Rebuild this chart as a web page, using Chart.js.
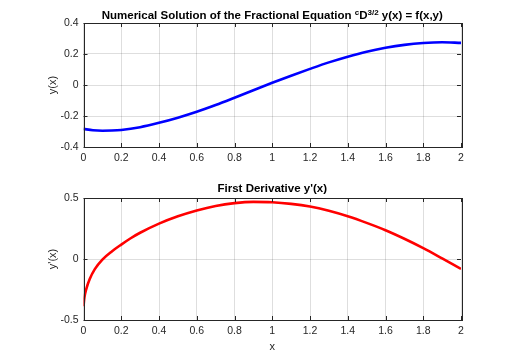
<!DOCTYPE html>
<html>
<head>
<meta charset="utf-8">
<script src="https://cdn.jsdelivr.net/npm/chart.js@4.4.1/dist/chart.umd.min.js"></script>
<style>
  html, body { margin: 0; padding: 0; background: #fff; }
  #wrap { position: relative; width: 527px; height: 359px; }
  canvas { position: absolute; left: 0; }
</style>
</head>
<body>
<div id="wrap">
  <canvas id="top" width="527" height="175" style="top:0"></canvas>
  <canvas id="bot" width="527" height="184" style="top:175px"></canvas>
</div>
<script>
// solution y(x)
const xSol = [0, 0.05, 0.1, 0.15, 0.2, 0.3, 0.4, 0.5, 0.6, 0.7, 0.8, 0.9, 1.0, 1.1, 1.2, 1.3, 1.4, 1.5, 1.6, 1.7, 1.8, 1.9, 2.0]
const ySol = [-0.283, -0.292, -0.295, -0.294, -0.290, -0.272, -0.244, -0.211, -0.173, -0.129, -0.082, -0.034, 0.014, 0.060, 0.104, 0.146, 0.183, 0.215, 0.240, 0.259, 0.271, 0.276, 0.272]

// first derivative y'(x)
const xDer = [0, 0.005, 0.015, 0.033, 0.06, 0.1, 0.15, 0.2, 0.25, 0.3, 0.4, 0.5, 0.6, 0.7, 0.8, 0.9, 1.0, 1.1, 1.2, 1.3, 1.4, 1.5, 1.6, 1.7, 1.8, 1.9, 2.0]
const yDer = [-0.387, -0.315, -0.245, -0.164, -0.083, -0.005, 0.062, 0.118, 0.17, 0.215, 0.29, 0.35, 0.398, 0.435, 0.458, 0.468, 0.465, 0.452, 0.43, 0.395, 0.35, 0.296, 0.236, 0.166, 0.089, 0.005, -0.081]

const topTicksY = [-0.4, -0.2, 0, 0.2, 0.4]
const botTicksY = [-0.5, 0, 0.5]

const FONT = '"Liberation Sans", Arial, Helvetica, sans-serif'
const INK = '#262626'

function toPoints(xs, ys) {
  const pts = []
  for (let i = 0; i < xs.length; i++) {
    pts.push({ x: xs[i], y: ys[i] })
  }
  return pts
}

// matlab-ish frame: box, inward ticks, title and axis labels
const matlabFrame = {
  id: 'matlabFrame',
  afterDraw(chart, args, opts) {
    const ctx = chart.ctx
    const a = chart.chartArea
    const xs = chart.scales.x
    const ys = chart.scales.y
    ctx.save()
    ctx.strokeStyle = INK
    ctx.lineWidth = 1
    ctx.beginPath()
    xs.ticks.forEach(t => {
      const px = Math.round(xs.getPixelForValue(t.value)) + 0.5
      ctx.moveTo(px, a.bottom); ctx.lineTo(px, a.bottom - 4)
      ctx.moveTo(px, a.top); ctx.lineTo(px, a.top + 4)
    })
    ys.ticks.forEach(t => {
      const py = Math.round(ys.getPixelForValue(t.value)) + 0.5
      ctx.moveTo(a.left, py); ctx.lineTo(a.left + 4, py)
      ctx.moveTo(a.right, py); ctx.lineTo(a.right - 4, py)
    })
    ctx.stroke()
    ctx.strokeRect(Math.round(a.left) + 0.5, Math.round(a.top) + 0.5, Math.round(a.right - a.left), Math.round(a.bottom - a.top))

    // title, pieces with superscripts
    const cx = (a.left + a.right) / 2
    let total = 0
    opts.title.forEach(p => {
      ctx.font = 'bold ' + (p.sup ? 8 : 11.5) + 'px ' + FONT
      total += ctx.measureText(p.t).width
    })
    let x = cx - total / 2
    ctx.fillStyle = '#000'
    ctx.textBaseline = 'alphabetic'
    ctx.textAlign = 'left'
    opts.title.forEach(p => {
      ctx.font = 'bold ' + (p.sup ? 8 : 11.5) + 'px ' + FONT
      ctx.fillText(p.t, x, opts.titleY - (p.sup ? 4.5 : 0))
      x += ctx.measureText(p.t).width
    })

    // y label
    ctx.fillStyle = INK
    ctx.font = '11px ' + FONT
    ctx.textAlign = 'center'
    ctx.textBaseline = 'middle'
    ctx.save()
    ctx.translate(53, (a.top + a.bottom) / 2)
    ctx.rotate(-Math.PI / 2)
    ctx.fillText(opts.ylabel, 0, 0)
    ctx.restore()

    if (opts.xlabel) {
      ctx.fillText(opts.xlabel, cx, opts.xlabelY)
    }
    ctx.restore()
  }
}

function makeChart(id, xs, ys, color, yTicks, frame, padBottom) {
  const ctx = document.getElementById(id).getContext('2d')
  const ymin = yTicks[0]
  const ymax = yTicks[yTicks.length - 1]
  return new Chart(ctx, {
    type: 'line',
    data: {
      datasets: [{
        data: toPoints(xs, ys),
        borderColor: color,
        borderWidth: 2.6,
        pointRadius: 0,
        fill: false,
        cubicInterpolationMode: 'monotone'
      }]
    },
    options: {
      responsive: false,
      animation: false,
      layout: { padding: { left: 0, right: 66, top: 23, bottom: padBottom } },
      plugins: {
        legend: { display: false },
        tooltip: { enabled: false },
        matlabFrame: frame
      },
      scales: {
        x: {
          type: 'linear',
          min: 0,
          max: 2,
          border: { display: false },
          grid: { color: 'rgba(0,0,0,0.13)', drawTicks: false },
          ticks: {
            stepSize: 0.2,
            padding: 5,
            color: INK,
            maxRotation: 0,
            autoSkip: false,
            font: { family: FONT, size: 10.5 },
            callback: v => String(Math.round(v * 10) / 10)
          },
          afterFit(scale) { scale.height = 20 }
        },
        y: {
          min: ymin,
          max: ymax,
          border: { display: false },
          grid: { color: 'rgba(0,0,0,0.13)', drawTicks: false },
          afterBuildTicks(scale) { scale.ticks = yTicks.map(v => ({ value: v })) },
          ticks: {
            padding: 5,
            color: INK,
            font: { family: FONT, size: 10.5 },
            callback: v => String(Math.round(v * 10) / 10)
          },
          afterFit(scale) { scale.width = 83.5 }
        }
      }
    },
    plugins: [matlabFrame]
  })
}

const topChart = makeChart('top', xSol, ySol, '#0000ff', topTicksY, {
  title: [
    { t: 'Numerical Solution of the Fractional Equation ' },
    { t: 'c', sup: true },
    { t: 'D' },
    { t: '3/2', sup: true },
    { t: ' y(x) = f(x,y)' }
  ],
  titleY: 19,
  ylabel: 'y(x)'
}, 8)

const botChart = makeChart('bot', xDer, yDer, '#ff0000', botTicksY, {
  title: [{ t: "First Derivative y'(x)" }],
  titleY: 17,
  ylabel: "y'(x)",
  xlabel: 'x',
  xlabelY: 172
}, 19)
</script>
</body>
</html>
